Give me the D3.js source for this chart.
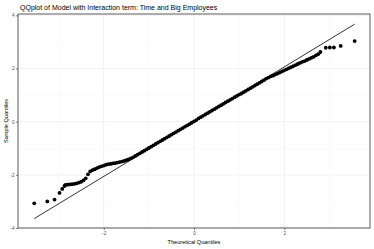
<!DOCTYPE html>
<html>
<head>
<meta charset="utf-8">
<script src="https://cdn.jsdelivr.net/npm/d3@7"></script>
<style>
  body { margin: 0; background: #fff; }
  text { font-family: "Liberation Sans", Arial, Helvetica, sans-serif; }
</style>
</head>
<body>
<div class="qqChart"></div>
<script>
/* QQ plot data */
const theoretical = [
  -3.54, -3.25, -3.09, -2.98, -2.92, -2.87,
  -2.85, -2.80, -2.75, -2.70, -2.65, -2.60, -2.55, -2.50, -2.45, -2.40,
  -2.35, -2.30, -2.25, -2.20, -2.15, -2.10, -2.05, -2.00, -1.95, -1.90,
  -1.85, -1.80, -1.75, -1.70, -1.65, -1.60, -1.55, -1.50, -1.45, -1.40,
  -1.35, -1.30, -1.25, -1.20, -1.15, -1.10, -1.05, -1.00, -0.95, -0.90,
  -0.85, -0.80, -0.75, -0.70, -0.65, -0.60, -0.55, -0.50, -0.45, -0.40,
  -0.35, -0.30, -0.25, -0.20, -0.15, -0.10, -0.05, 0.00, 0.05, 0.10,
  0.15, 0.20, 0.25, 0.30, 0.35, 0.40, 0.45, 0.50, 0.55, 0.60,
  0.65, 0.70, 0.75, 0.80, 0.85, 0.90, 0.95, 1.00, 1.05, 1.10,
  1.15, 1.20, 1.25, 1.30, 1.35, 1.40, 1.45, 1.50, 1.55, 1.60,
  1.65, 1.70, 1.75, 1.80, 1.85, 1.90, 1.95, 2.00, 2.05, 2.10,
  2.15, 2.20, 2.25, 2.30, 2.35, 2.40, 2.45, 2.50, 2.55, 2.60,
  2.65, 2.70, 2.75, 2.80,
  2.92, 3.01, 3.10, 3.25, 3.56
];
const sample = [
  -3.07, -3.00, -2.93, -2.68, -2.53, -2.42,
  -2.38, -2.37, -2.36, -2.35, -2.34, -2.32, -2.29, -2.26, -2.21, -2.13,
  -1.98, -1.87, -1.82, -1.79, -1.75, -1.71, -1.68, -1.65, -1.62, -1.60,
  -1.59, -1.57, -1.56, -1.54, -1.52, -1.50, -1.48, -1.45, -1.42, -1.38,
  -1.34, -1.29, -1.24, -1.19, -1.14, -1.09, -1.04, -0.99, -0.94, -0.89,
  -0.84, -0.79, -0.74, -0.69, -0.64, -0.59, -0.54, -0.49, -0.44, -0.39,
  -0.34, -0.29, -0.24, -0.19, -0.14, -0.09, -0.04, 0.01, 0.06, 0.12,
  0.17, 0.22, 0.27, 0.32, 0.37, 0.42, 0.47, 0.52, 0.57, 0.62,
  0.67, 0.72, 0.77, 0.82, 0.87, 0.92, 0.97, 1.02, 1.06, 1.11,
  1.16, 1.21, 1.26, 1.31, 1.36, 1.41, 1.46, 1.51, 1.56, 1.62,
  1.66, 1.70, 1.73, 1.77, 1.81, 1.85, 1.89, 1.93, 1.97, 2.01,
  2.05, 2.09, 2.13, 2.17, 2.21, 2.25, 2.28, 2.32, 2.36, 2.40,
  2.44, 2.49, 2.54, 2.62,
  2.78, 2.79, 2.79, 2.85, 3.03
];
/* reference line: sample = slope * theoretical + intercept */
const lineSlope = 1.03;
const lineIntercept = 0.0;

const xTicks = [-2, 0, 2];
const xMinor = [-3, -1, 1, 3];
const yTicks = [-4, -2, 0, 2, 4];
const yMinor = [-3, -1, 1, 3];

const title = "QQplot of Model with Interaction term: Time and Big Employees";
const xTitle = "Theoretical Quantiles";
const yTitle = "Sample Quantiles";

/* define margins and container dimensions */
const margin = ({top: 14, right: 4, bottom: 21, left: 18});
const width = 374 - margin.left - margin.right;
const height = 249 - margin.top - margin.bottom;

const svg = d3.select('.qqChart')
  .append('svg')
  .attr("width", 374)
  .attr("height", 249);

svg.append("rect")
  .attr("width", 374)
  .attr("height", 249)
  .attr("fill", "#fff");

const chart = svg.append("g")
  .attr("transform", `translate(${margin.left},${margin.top})`);

/* scales */
const xScale = d3.scaleLinear()
  .domain([-3.9, 3.9])
  .range([0, width]);

const yScale = d3.scaleLinear()
  .domain([-4.0, 4.05])
  .range([height, 0]);

/* grid lines, minor first */
chart.append("g")
  .selectAll("line")
  .data(xMinor)
  .join("line")
  .attr("x1", d => xScale(d)).attr("x2", d => xScale(d))
  .attr("y1", 0).attr("y2", height)
  .attr("stroke", "#f3f3f3").attr("stroke-width", 0.4);

chart.append("g")
  .selectAll("line")
  .data(yMinor)
  .join("line")
  .attr("y1", d => yScale(d)).attr("y2", d => yScale(d))
  .attr("x1", 0).attr("x2", width)
  .attr("stroke", "#f3f3f3").attr("stroke-width", 0.4);

chart.append("g")
  .selectAll("line")
  .data(xTicks)
  .join("line")
  .attr("x1", d => xScale(d)).attr("x2", d => xScale(d))
  .attr("y1", 0).attr("y2", height)
  .attr("stroke", "#ebebeb").attr("stroke-width", 0.7);

chart.append("g")
  .selectAll("line")
  .data(yTicks)
  .join("line")
  .attr("y1", d => yScale(d)).attr("y2", d => yScale(d))
  .attr("x1", 0).attr("x2", width)
  .attr("stroke", "#ebebeb").attr("stroke-width", 0.7);

/* reference line */
const xExt = d3.extent(theoretical);
chart.append("line")
  .attr("x1", xScale(xExt[0]))
  .attr("y1", yScale(lineSlope * xExt[0] + lineIntercept))
  .attr("x2", xScale(xExt[1]))
  .attr("y2", yScale(lineSlope * xExt[1] + lineIntercept))
  .attr("stroke", "#000")
  .attr("stroke-width", 0.8);

/* points */
chart.append("g")
  .selectAll("circle")
  .data(theoretical)
  .join("circle")
  .attr("cx", d => xScale(d))
  .attr("cy", (d, i) => yScale(sample[i]))
  .attr("r", 1.9)
  .attr("fill", "#000");

/* panel border */
chart.append("rect")
  .attr("width", width)
  .attr("height", height)
  .attr("fill", "none")
  .attr("stroke", "#333")
  .attr("stroke-width", 0.8);

/* axes */
const xAxis = d3.axisBottom(xScale)
  .tickValues(xTicks)
  .tickSize(2)
  .tickPadding(1.5)
  .tickFormat(d => String(d));

const yAxis = d3.axisLeft(yScale)
  .tickValues(yTicks)
  .tickSize(2)
  .tickPadding(1.5)
  .tickFormat(d => String(d));

const xLabels = chart.append("g")
  .attr("transform", `translate(0,${height})`)
  .call(xAxis);

const yLabels = chart.append("g")
  .call(yAxis);

[xLabels, yLabels].forEach(g => {
  g.select(".domain").remove();
  g.selectAll(".tick line").attr("stroke", "#333").attr("stroke-width", 0.6);
  g.selectAll(".tick text")
    .attr("fill", "#4d4d4d")
    .style("font-size", "4.6px");
});

/* titles */
svg.append("text")
  .attr("x", margin.left + width / 2)
  .attr("y", 244)
  .attr("text-anchor", "middle")
  .style("font-size", "5.6px")
  .text(xTitle);

svg.append("text")
  .attr("transform", `translate(8,${margin.top + height / 2}) rotate(-90)`)
  .attr("text-anchor", "middle")
  .style("font-size", "5.6px")
  .text(yTitle);

svg.append("text")
  .attr("x", 20)
  .attr("y", 10)
  .style("font-size", "7.0px")
  .text(title);
</script>
</body>
</html>
